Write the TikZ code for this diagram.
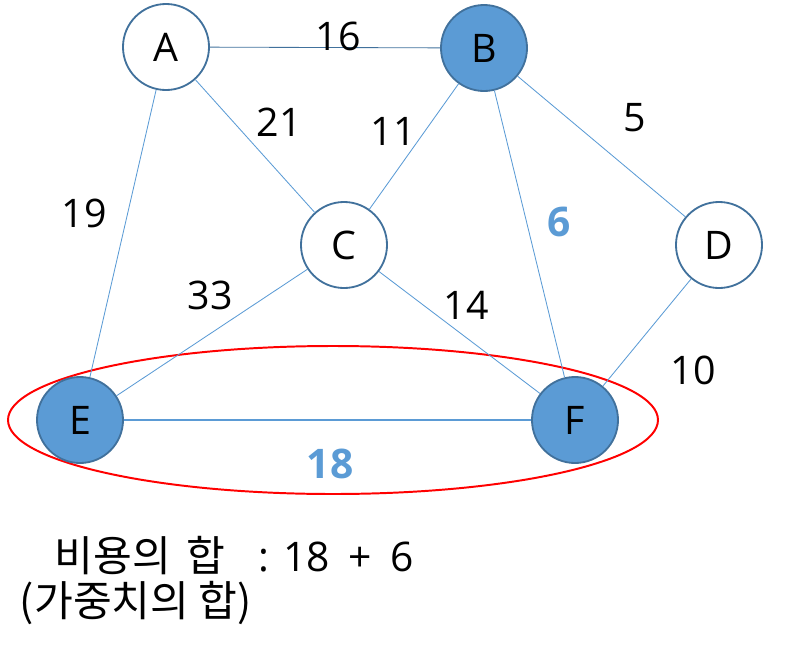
\documentclass[tikz,border=0pt]{standalone}
\usepackage{fontspec}
\setmainfont{Open Sans}
\newfontfamily\kr{Noto Sans CJK KR}
\usetikzlibrary{positioning}
\definecolor{nodeline}{HTML}{41719C}
\definecolor{nodefill}{HTML}{5B9BD5}
\definecolor{edgeline}{HTML}{5B9BD5}
\begin{document}
\begin{tikzpicture}[x=0.025cm, y=-0.025cm,
                vtx/.style={circle, draw=nodeline, line width=1.3pt, fill=white,
                            minimum size=2.15cm, inner sep=0pt,
                            font=\fontsize{28}{30}\selectfont},
                sel/.style={vtx, fill=nodefill},
                edge/.style={draw=edgeline, line width=0.6pt},
                wt/.style={font=\fontsize{28}{30}\selectfont},
                hot/.style={font=\fontsize{29}{30}\selectfont\bfseries, text=nodefill},
                sum/.style={font=\kr\fontsize{30}{32}\selectfont, anchor=base, inner sep=0pt},
            ]
                \useasboundingbox (0,0) rectangle (805,646);

                % Chosen pair
                \draw[red, line width=1.4pt] (333,420) ellipse [x radius=325, y radius=74];

                % Vertices
                \node[vtx] (A) at (166,47) {A};
                \node[sel] (B) at (484,48) {B};
                \node[vtx] (C) at (344,245) {C};
                \node[vtx] (D) at (719,245) {D};
                \node[sel] (E) at (80,420) {E};
                \node[sel] (F) at (575,420) {F};

                % Edges
                \draw[edge, draw=nodeline] (A) -- (B);
                \foreach \u/\v in {A/C, A/E, B/C, B/D, B/F, C/E, C/F, D/F} {
                    \draw[edge] (\u) -- (\v);
                }
                \draw[edge, line width=0.9pt] (E) -- (F);

                % Weights
                \node[wt] (wAB) at (338,36) {16};
                \node[wt] (wAC) at (279,122) {21};
                \node[wt] (wBC) at (393,131) {11};
                \node[wt] (wBD) at (635,118) {5};
                \node[wt] (wAE) at (84,213) {19};
                \node[hot] (wBF) at (559,222) {6};
                \node[wt] (wCE) at (210,295) {33};
                \node[wt] (wCF) at (466,305) {14};
                \node[wt] (wDF) at (693,370) {10};
                \node[hot] (wEF) at (330,464) {18};

                % Total cost
                \node[sum] (cost) at (140,571) {비용의\hspace{0.15em} 합};
                \node[sum, font=\fontsize{29}{32}\selectfont] (total) at (336,571)
                    {:\hspace{0.35em}18\hspace{0.45em}+\hspace{0.45em}6};
                \node[sum] (note) at (136,616) {(가중치의 합)};
            \end{tikzpicture}
\end{document}
